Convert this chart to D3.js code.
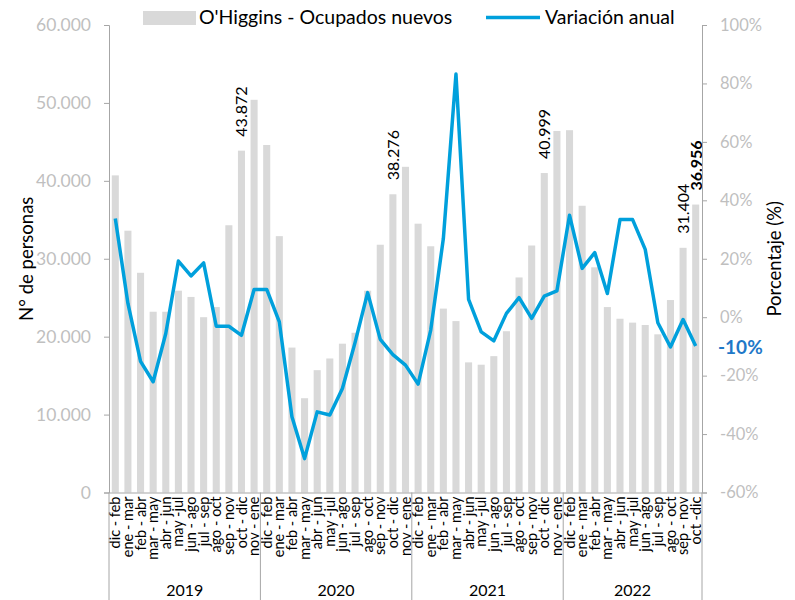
<!DOCTYPE html>
<html>
<head>
<meta charset="utf-8">
<script src="https://cdn.jsdelivr.net/npm/d3@7"></script>
<style>
  body { margin: 0; background: #fff; }
  text { font-family: Lato, "Open Sans", sans-serif; }
</style>
</head>
<body>
<div id="chart"></div>
<script>
// datos
const categorias = [
  "dic - feb","ene - mar","feb - abr","mar - may","abr - jun","may -jul","jun - ago","jul - sep","ago - oct","sep - nov","oct - dic","nov - ene",
  "dic - feb","ene - mar","feb - abr","mar - may","abr - jun","may -jul","jun - ago","jul - sep","ago - oct","sep - nov","oct - dic","nov - ene",
  "dic - feb","ene - mar","feb - abr","mar - may","abr - jun","may -jul","jun - ago","jul - sep","ago - oct","sep - nov","oct - dic","nov - ene",
  "dic - feb","ene - mar","feb - abr","mar - may","abr - jun","may -jul","jun - ago","jul - sep","ago - oct","sep - nov","oct -dic"
];
const anios = ["2019", "2020", "2021", "2022"];
const periodosPorAnio = [12, 12, 12, 11];

const ocupados = [
  40700, 33600, 28200, 23200, 23200, 25900, 25100, 22500, 23800, 34300, 43872, 50400,
  44600, 32900, 18600, 12100, 15700, 17200, 19100, 20500, 25900, 31800, 38276, 41800,
  34500, 31600, 23600, 22000, 16700, 16400, 17500, 20700, 27600, 31700, 40999, 46400,
  46500, 36800, 28900, 23800, 22300, 21800, 21500, 20300, 24700, 31404, 36956
];
const variacion = [
  33.8, 4.7, -15.1, -22.1, -5.6, 19.2, 14.1, 18.6, -3.1, -3.1, -6.2, 9.5,
  9.5, -1.6, -34.1, -48.4, -32.4, -33.5, -24.4, -8.7, 8.4, -7.6, -12.8, -16.4,
  -22.9, -4.4, 26.9, 83.2, 6.1, -5.0, -8.1, 1.3, 6.7, -0.4, 7.2, 9.0,
  34.9, 16.7, 22.1, 8.1, 33.4, 33.4, 23.2, -1.9, -10.2, -0.8, -9.9
];
// barras con etiqueta de valor (indices)
const conEtiqueta = [10, 22, 34, 45, 46];

const ticksIzq = [0, 10000, 20000, 30000, 40000, 50000, 60000];
const ticksDer = [-60, -40, -20, 0, 20, 40, 60, 80, 100];

const width = 795;
const height = 600;
const margin = {left: 109, right: 93, top: 25, bottom: 107.5};

const colorBarra = "#d9d9d9";
const colorLinea = "#00a0dc";
const colorEje = "#a6a6a6";
const colorTick = "#bfbfbf";

const loc = d3.formatLocale({decimal: ",", thousands: ".", grouping: [3], currency: ["$", ""]});
const fmtMiles = loc.format(",.0f");

const svg = d3.select("#chart")
  .append("svg")
  .attr("width", width)
  .attr("height", height)
  .attr("viewBox", [0, 0, width, height]);

const idx = d3.range(categorias.length);

const x = d3.scaleBand()
  .domain(idx)
  .range([margin.left, width - margin.right])
  .paddingInner(0.44)
  .paddingOuter(0.22);

const y = d3.scaleLinear()
  .domain([0, 60000])
  .range([height - margin.bottom, margin.top]);

const y2 = d3.scaleLinear()
  .domain([-60, 100])
  .range([height - margin.bottom, margin.top]);

// barras
svg.append("g")
  .selectAll("rect")
  .data(idx)
  .join("rect")
    .attr("x", i => x(i))
    .attr("y", i => y(ocupados[i]))
    .attr("width", x.bandwidth())
    .attr("height", i => y(0) - y(ocupados[i]))
    .attr("fill", colorBarra);

// etiquetas de valor sobre barras
svg.append("g")
  .selectAll("text")
  .data(conEtiqueta)
  .join("text")
    .attr("transform", i => `translate(${x(i) + x.bandwidth() / 2 + 6},${y(ocupados[i]) - 14}) rotate(-90)`)
    .attr("font-size", 16)
    .attr("font-weight", (i, k) => k === conEtiqueta.length - 1 ? "bold" : "normal")
    .attr("fill", "#000")
    .text(i => fmtMiles(ocupados[i]));

// eje izquierdo
const ejeIzq = svg.append("g")
  .attr("transform", `translate(${margin.left},0)`)
  .call(d3.axisLeft(y).tickValues(ticksIzq).tickSize(5).tickPadding(13).tickFormat(fmtMiles));
ejeIzq.select(".domain").attr("stroke", colorEje);
ejeIzq.selectAll(".tick line").attr("stroke", colorEje);
ejeIzq.selectAll("text").attr("fill", colorTick).attr("font-size", 17.5).attr("font-family", "Lato, sans-serif");

// eje derecho
const ejeDer = svg.append("g")
  .attr("transform", `translate(${width - margin.right},0)`)
  .call(d3.axisRight(y2).tickValues(ticksDer).tickSize(5).tickPadding(13).tickFormat(d => d + "%"));
ejeDer.select(".domain").attr("stroke", colorEje);
ejeDer.selectAll(".tick line").attr("stroke", colorEje);
ejeDer.selectAll("text").attr("fill", colorTick).attr("font-size", 16.5).attr("font-family", "Lato, sans-serif");

// eje x con periodos rotados
const ejeX = svg.append("g")
  .attr("transform", `translate(0,${height - margin.bottom})`)
  .call(d3.axisBottom(x).tickSize(0).tickFormat(i => categorias[i]));
ejeX.select(".domain").attr("stroke", colorEje);
ejeX.selectAll("text")
  .attr("transform", "rotate(-90)")
  .attr("x", -4)
  .attr("y", 0)
  .attr("dy", "0.35em")
  .attr("text-anchor", "end")
  .attr("fill", "#000")
  .attr("font-size", 14.5)
  .attr("font-family", "Lato, sans-serif");

// separadores y etiquetas de anio
const paso = x.step();
let inicio = 0;
const grupos = anios.map((a, k) => {
  const g = {anio: a, desde: inicio, hasta: inicio + periodosPorAnio[k]};
  inicio += periodosPorAnio[k];
  return g;
});
const borde = i => margin.left + paso * i;

svg.append("g")
  .selectAll("line")
  .data([0].concat(grupos.map(g => g.hasta)))
  .join("line")
    .attr("x1", i => borde(i))
    .attr("x2", i => borde(i))
    .attr("y1", height - margin.bottom)
    .attr("y2", height)
    .attr("stroke", colorEje);

svg.append("g")
  .selectAll("text")
  .data(grupos)
  .join("text")
    .attr("x", g => (borde(g.desde) + borde(g.hasta)) / 2)
    .attr("y", 596)
    .attr("text-anchor", "middle")
    .attr("font-size", 16)
    .text(g => g.anio);

// linea de variacion anual
const linea = d3.line()
  .x(i => x(i) + x.bandwidth() / 2)
  .y(i => y2(variacion[i]));

svg.append("path")
  .datum(idx)
  .attr("d", linea)
  .attr("fill", "none")
  .attr("stroke", colorLinea)
  .attr("stroke-width", 3.5)
  .attr("stroke-linejoin", "round");

// etiqueta del ultimo valor
const ultimo = variacion.length - 1;
svg.append("text")
  .attr("x", width - margin.right + 16)
  .attr("y", y2(variacion[ultimo]) + 8)
  .attr("font-size", 19)
  .attr("font-weight", "bold")
  .attr("fill", "#1f78c8")
  .text(Math.round(variacion[ultimo]) + "%");

// titulos de ejes
svg.append("text")
  .attr("transform", `translate(33,${(margin.top + height - margin.bottom) / 2}) rotate(-90)`)
  .attr("text-anchor", "middle")
  .attr("font-size", 18.5)
  .text("N° de personas");

svg.append("text")
  .attr("transform", `translate(781,${(margin.top + height - margin.bottom) / 2}) rotate(-90)`)
  .attr("text-anchor", "middle")
  .attr("font-size", 18.5)
  .text("Porcentaje (%)");

// leyenda
const leyenda = svg.append("g");
leyenda.append("rect")
  .attr("x", 143).attr("y", 11)
  .attr("width", 53).attr("height", 14)
  .attr("fill", colorBarra);
leyenda.append("text")
  .attr("x", 199).attr("y", 24)
  .attr("font-size", 19.5)
  .text("O'Higgins - Ocupados nuevos");
leyenda.append("line")
  .attr("x1", 486).attr("x2", 540)
  .attr("y1", 17.5).attr("y2", 17.5)
  .attr("stroke", colorLinea)
  .attr("stroke-width", 3.5);
leyenda.append("text")
  .attr("x", 545).attr("y", 24)
  .attr("font-size", 19.5)
  .text("Variación anual");
</script>
</body>
</html>
